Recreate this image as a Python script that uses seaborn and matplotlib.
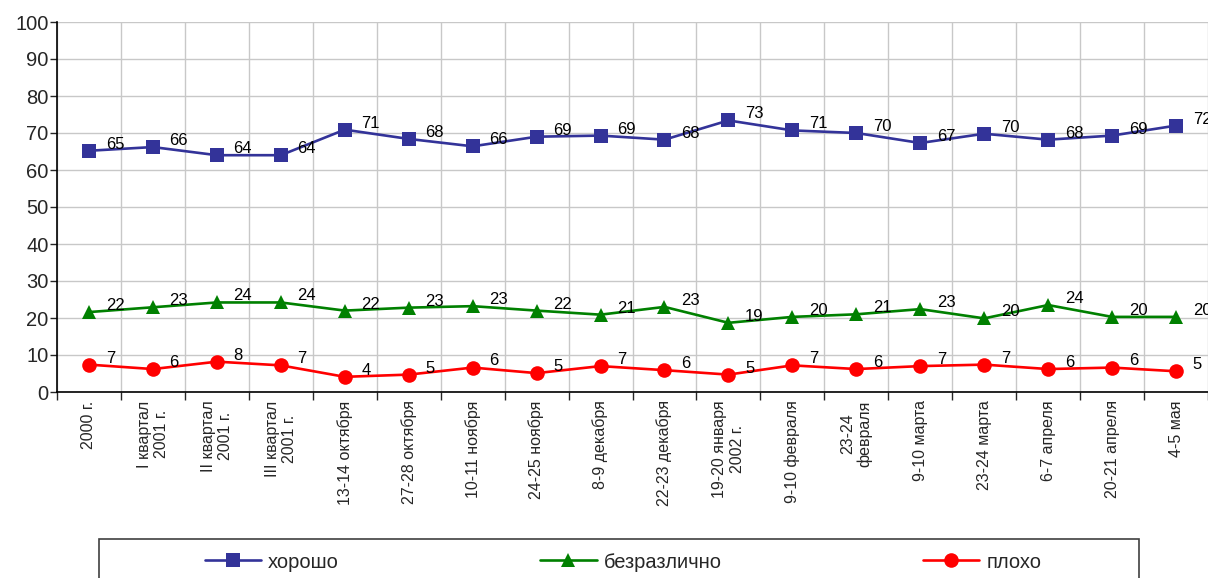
import numpy as np
import pandas as pd
import matplotlib
matplotlib.use("Agg")
import matplotlib.pyplot as plt
import seaborn as sns

# Даты опросов (подписи оси X)
categories = ["2000 г.", "I квартал\n2001 г.", "II квартал\n2001 г.", "III квартал\n2001 г.",
              "13-14 октября", "27-28 октября", "10-11 ноября", "24-25 ноября",
              "8-9 декабря", "22-23 декабря", "19-20 января\n2002 г.", "9-10 февраля",
              "23-24\nфевраля", "9-10 марта", "23-24 марта", "6-7 апреля",
              "20-21 апреля", "4-5 мая"]

# Значения рядов
good = [65.2, 66.2, 64.0, 64.0, 70.9, 68.4, 66.4, 69.0, 69.3, 68.2, 73.4, 70.7,
        70.0, 67.3, 69.8, 68.2, 69.3, 72.0]
neutral = [21.6, 22.9, 24.2, 24.2, 22.0, 22.8, 23.2, 22.0, 20.9, 23.0, 18.7, 20.3,
           21.0, 22.4, 19.9, 23.5, 20.3, 20.3]
bad = [7.4, 6.2, 8.2, 7.2, 4.1, 4.7, 6.6, 5.1, 7.0, 5.9, 4.7, 7.2,
       6.2, 7.0, 7.4, 6.2, 6.6, 5.6]

# Подписи данных
good_labels = [65, 66, 64, 64, 71, 68, 66, 69, 69, 68, 73, 71, 70, 67, 70, 68, 69, 72]
neutral_labels = [22, 23, 24, 24, 22, 23, 23, 22, 21, 23, 19, 20, 21, 23, 20, 24, 20, 20]
bad_labels = [7, 6, 8, 7, 4, 5, 6, 5, 7, 6, 5, 7, 6, 7, 7, 6, 6, 5]

series_names = ["хорошо", "безразлично", "плохо"]

sns.set_style("white")
plt.rcParams['font.family'] = ['Liberation Sans', 'DejaVu Sans']

fig = plt.figure(figsize=(12.08, 5.78), dpi=100)
ax = fig.add_axes([57 / 1208, 1 - 392 / 578, 1 - 57 / 1208, 370 / 578])

positions = np.arange(len(categories))
styles = [
    (good, good_labels, "#333399", "s", 10.5),
    (neutral, neutral_labels, "#008000", "^", 10.5),
    (bad, bad_labels, "#FF0000", "o", 10.5),
]

for name, (vals, labs, color, marker, ms) in zip(series_names, styles):
    df = pd.DataFrame({"pos": positions, "value": vals})
    sns.lineplot(data=df, x="pos", y="value", color=color, marker=marker,
                 markersize=ms, markeredgewidth=0, linewidth=1.9, label=name, ax=ax)
    for x, y, t in zip(positions, vals, labs):
        ax.annotate(str(t), (x, y), xytext=(12, 1.5), textcoords="offset points",
                    ha="left", va="baseline", fontsize=12, color="black",
                    annotation_clip=False)

ax.set_xlim(-0.5, len(categories) - 0.5)
ax.set_ylim(0, 100)
ax.set_yticks(np.arange(0, 101, 10))
ax.tick_params(axis="y", labelsize=14.5, length=5, width=1, direction="out", pad=1, left=True)

ax.set_xticks(positions)
ax.set_xticklabels(categories, rotation=90, fontsize=11.5, multialignment="center")
ax.set_xticks(np.arange(-0.5, len(categories), 1), minor=True)
ax.tick_params(axis="x", which="major", length=0, pad=6)
ax.tick_params(axis="x", which="minor", length=6, width=1, direction="out", bottom=True)

ax.grid(False)
ax.yaxis.grid(True, color="#c8c8c8", linewidth=1)
ax.xaxis.grid(True, which="minor", color="#c8c8c8", linewidth=1)
ax.set_axisbelow(True)
ax.set_xlabel("")
ax.set_ylabel("")

for side in ["top", "right"]:
    ax.spines[side].set_visible(False)
for side in ["left", "bottom"]:
    ax.spines[side].set_color("black")
    ax.spines[side].set_linewidth(1.2)

handles, labels = ax.get_legend_handles_labels()
ax.get_legend().remove()

# рамка легенды уходит за нижний край картинки
frame = plt.Rectangle((99 / 1208, -0.05), (1139 - 99) / 1208, 0.05 + (578 - 539) / 578,
                      transform=fig.transFigure, fill=False, edgecolor="#404040",
                      linewidth=1.2, clip_on=False)
fig.add_artist(frame)
fig.legend(handles, labels, loc="center", bbox_to_anchor=(623 / 1208, 1 - 562 / 578),
           ncol=3, frameon=False, fontsize=14.5, handlelength=2.8, handletextpad=0.35,
           columnspacing=10.0)

fig.savefig("out.png", dpi=100)
